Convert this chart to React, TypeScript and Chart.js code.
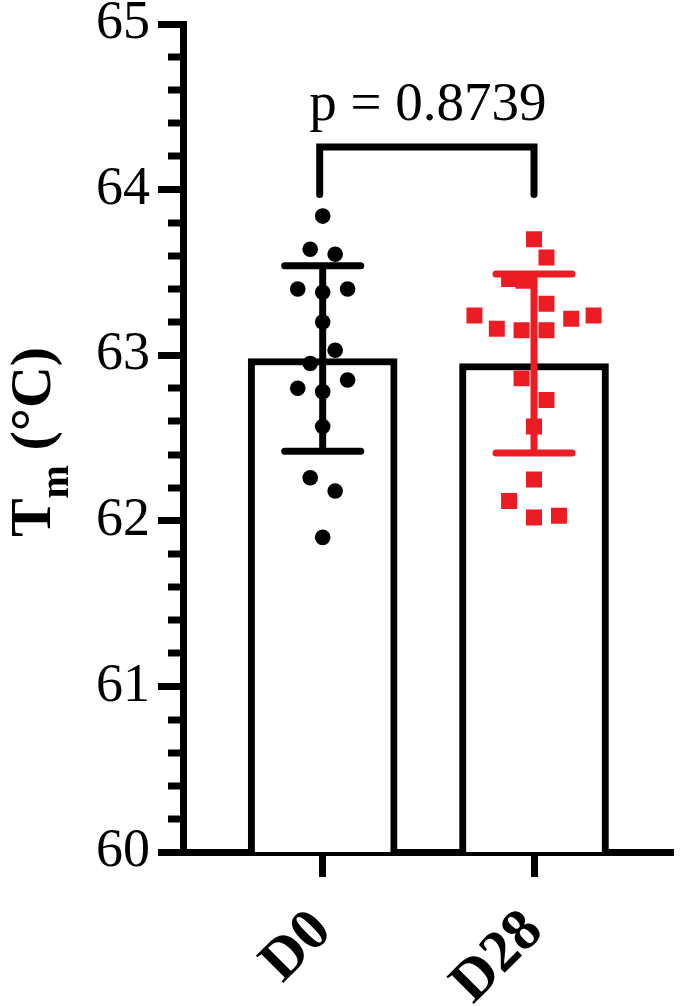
import React, { useEffect, useRef } from "react";
import { Chart, registerables } from "chart.js";

Chart.register(...registerables);

// ---- data ----
const categories = ["D0", "D28"];
const categoryX = [1, 2];
const barMeans = [62.98, 62.95];
const barSD = [0.56, 0.54];

const d0Values = [63.84, 63.64, 63.61, 63.40, 63.38, 63.40, 63.20, 63.03, 62.95, 62.80, 62.78, 62.85, 62.57, 62.26, 62.18, 61.90];
const d0Jitter = [0, -0.059, 0.059, -0.118, 0, 0.118, 0, 0.059, -0.059, -0.118, 0, 0.118, 0, -0.059, 0.059, 0];

const d28Values = [63.70, 63.59, 63.46, 63.45, 63.31, 63.24, 63.16, 63.15, 63.15, 63.22, 63.24, 62.86, 62.73, 62.57, 62.25, 62.12, 62.02, 62.03];
const d28Jitter = [0, 0.059, -0.118, -0.05, 0.059, -0.282, -0.176, -0.059, 0.059, 0.176, 0.282, -0.059, 0.059, 0, 0, -0.118, 0, 0.118];

const yMin = 60;
const yMax = 65;
const yStep = 1;
const yMinorStep = 0.2;

const pLabel = "p = 0.8739";
const bracketTop = 64.257;
const bracketLegBottom = 63.97;
const pLabelY = 64.42;

const BLACK = "#000000";
const RED = "#EC1C24";
const seriesColors = [BLACK, RED];

const serif = "'Liberation Serif', 'Times New Roman', serif";

const overlayPlugin = {
  id: "overlay",
  afterDatasetsDraw(chart: any) {
    const { ctx, scales } = chart;
    const xs = scales.x;
    const ys = scales.y;
    ctx.save();
    // error bars
    ctx.lineCap = "round";
    ctx.lineWidth = 7;
    const capHalf = 0.18;
    categoryX.forEach((cx, i) => {
      const top = ys.getPixelForValue(barMeans[i] + barSD[i]);
      const bot = ys.getPixelForValue(barMeans[i] - barSD[i]);
      const px = xs.getPixelForValue(cx);
      const l = xs.getPixelForValue(cx - capHalf);
      const r = xs.getPixelForValue(cx + capHalf);
      ctx.strokeStyle = seriesColors[i];
      ctx.beginPath();
      ctx.moveTo(px, top);
      ctx.lineTo(px, bot);
      ctx.moveTo(l, top);
      ctx.lineTo(r, top);
      ctx.moveTo(l, bot);
      ctx.lineTo(r, bot);
      ctx.stroke();
    });
    // bracket
    ctx.strokeStyle = BLACK;
    ctx.lineCap = "round";
    ctx.lineJoin = "miter";
    ctx.lineWidth = 7;
    const bx1 = xs.getPixelForValue(categoryX[0]) - 3;
    const bx2 = xs.getPixelForValue(categoryX[1]);
    const by = ys.getPixelForValue(bracketTop);
    const bl = ys.getPixelForValue(bracketLegBottom);
    ctx.beginPath();
    ctx.moveTo(bx1, bl);
    ctx.lineTo(bx1, by);
    ctx.lineTo(bx2, by);
    ctx.lineTo(bx2, bl);
    ctx.stroke();
    // p label
    ctx.fillStyle = BLACK;
    ctx.font = `55px ${serif}`;
    ctx.textAlign = "center";
    ctx.textBaseline = "alphabetic";
    ctx.fillText(pLabel, (bx1 + bx2) / 2 + 1, ys.getPixelForValue(pLabelY));
    ctx.restore();
  },
  afterDraw(chart: any) {
    const { ctx, chartArea, scales } = chart;
    const ys = scales.y;
    ctx.save();
    // minor ticks
    ctx.strokeStyle = BLACK;
    ctx.lineWidth = 7;
    ctx.lineCap = "butt";
    const n = Math.round((yMax - yMin) / yMinorStep);
    for (let k = 0; k <= n; k++) {
      const v = yMin + k * yMinorStep;
      if (Math.abs(v / yStep - Math.round(v / yStep)) < 1e-6) continue;
      const py = Math.round(ys.getPixelForValue(v));
      ctx.beginPath();
      ctx.moveTo(chartArea.left - 15, py);
      ctx.lineTo(chartArea.left, py);
      ctx.stroke();
    }
    // y axis title: T_m (°C)
    const cy = 442;
    const baseX = 50;
    const mainFont = `bold 58px ${serif}`;
    const subFont = `bold 40px ${serif}`;
    ctx.font = mainFont;
    const wT = ctx.measureText("T").width;
    const wRest = ctx.measureText(" (°C)").width;
    ctx.font = subFont;
    const wM = ctx.measureText("m").width;
    const total = wT + wM + wRest;
    ctx.translate(baseX, cy);
    ctx.rotate(-Math.PI / 2);
    ctx.fillStyle = BLACK;
    ctx.textAlign = "left";
    ctx.textBaseline = "alphabetic";
    let x = -total / 2;
    ctx.font = mainFont;
    ctx.fillText("T", x, 0);
    x += wT;
    ctx.font = subFont;
    ctx.fillText("m", x, 18);
    x += wM;
    ctx.font = mainFont;
    ctx.fillText(" (°C)", x, 0);
    ctx.restore();
  },
};

export default function App() {
  const ref = useRef<HTMLCanvasElement>(null);
  useEffect(() => {
    if (!ref.current) return;
    const chart = new Chart(ref.current, {
      type: "bar",
      data: {
        datasets: [
          {
            type: "bar",
            data: categoryX.map((x, i) => ({ x, y: barMeans[i] })),
            backgroundColor: "#ffffff",
            borderColor: BLACK,
            borderWidth: 7,
            borderSkipped: "bottom",
            barThickness: 149,
            order: 3,
          } as any,
          {
            type: "scatter",
            data: d0Values.map((y, i) => ({ x: categoryX[0] + d0Jitter[i], y })),
            pointStyle: "circle",
            pointRadius: 7.8,
            pointBackgroundColor: BLACK,
            pointBorderWidth: 0,
            order: 1,
          } as any,
          {
            type: "scatter",
            data: d28Values.map((y, i) => ({ x: categoryX[1] + d28Jitter[i], y })),
            pointStyle: "rect",
            pointRadius: 11.3,
            pointBackgroundColor: RED,
            pointBorderWidth: 0,
            order: 1,
          } as any,
        ],
      },
      options: {
        animation: false,
        responsive: true,
        maintainAspectRatio: false,
        layout: { padding: { top: 24, right: 8, left: 0, bottom: 0 } },
        plugins: { legend: { display: false }, tooltip: { enabled: false } },
        scales: {
          x: {
            type: "linear",
            offset: false,
            min: 0.339,
            max: 2.661,
            afterBuildTicks: (scale: any) => {
              scale.ticks = categoryX.map((v) => ({ value: v }));
            },
            afterFit: (scale: any) => {
              scale.height = 154;
              scale.paddingLeft = 0;
              scale.paddingRight = 0;
            },
            ticks: {
              autoSkip: false,
              maxRotation: 45,
              minRotation: 45,
              padding: 20,
              color: BLACK,
              font: { family: serif, size: 59, weight: "bold" },
              callback: (_v: any, i: number) => categories[i],
            },
            grid: {
              display: true,
              offset: false,
              drawOnChartArea: false,
              drawTicks: true,
              tickLength: 25,
              tickWidth: 7,
              tickColor: BLACK,
              color: BLACK,
            },
            border: { display: true, width: 7, color: BLACK },
          },
          y: {
            type: "linear",
            min: yMin,
            max: yMax,
            afterFit: (scale: any) => {
              scale.width = 183;
              scale.paddingTop = 0;
              scale.paddingBottom = 0;
            },
            ticks: {
              stepSize: yStep,
              padding: 8,
              color: BLACK,
              font: { family: serif, size: 54 },
            },
            grid: {
              display: true,
              drawOnChartArea: false,
              drawTicks: true,
              tickLength: 25,
              tickWidth: 7,
              tickColor: BLACK,
              color: BLACK,
            },
            border: { display: true, width: 7, color: BLACK },
          },
        },
      } as any,
      plugins: [overlayPlugin],
    });
    return () => chart.destroy();
  }, []);
  return (
    <div style={{ position: "fixed", left: 0, top: 0, width: 685, height: 1006, background: "#fff" }}>
      <canvas ref={ref} />
    </div>
  );
}
